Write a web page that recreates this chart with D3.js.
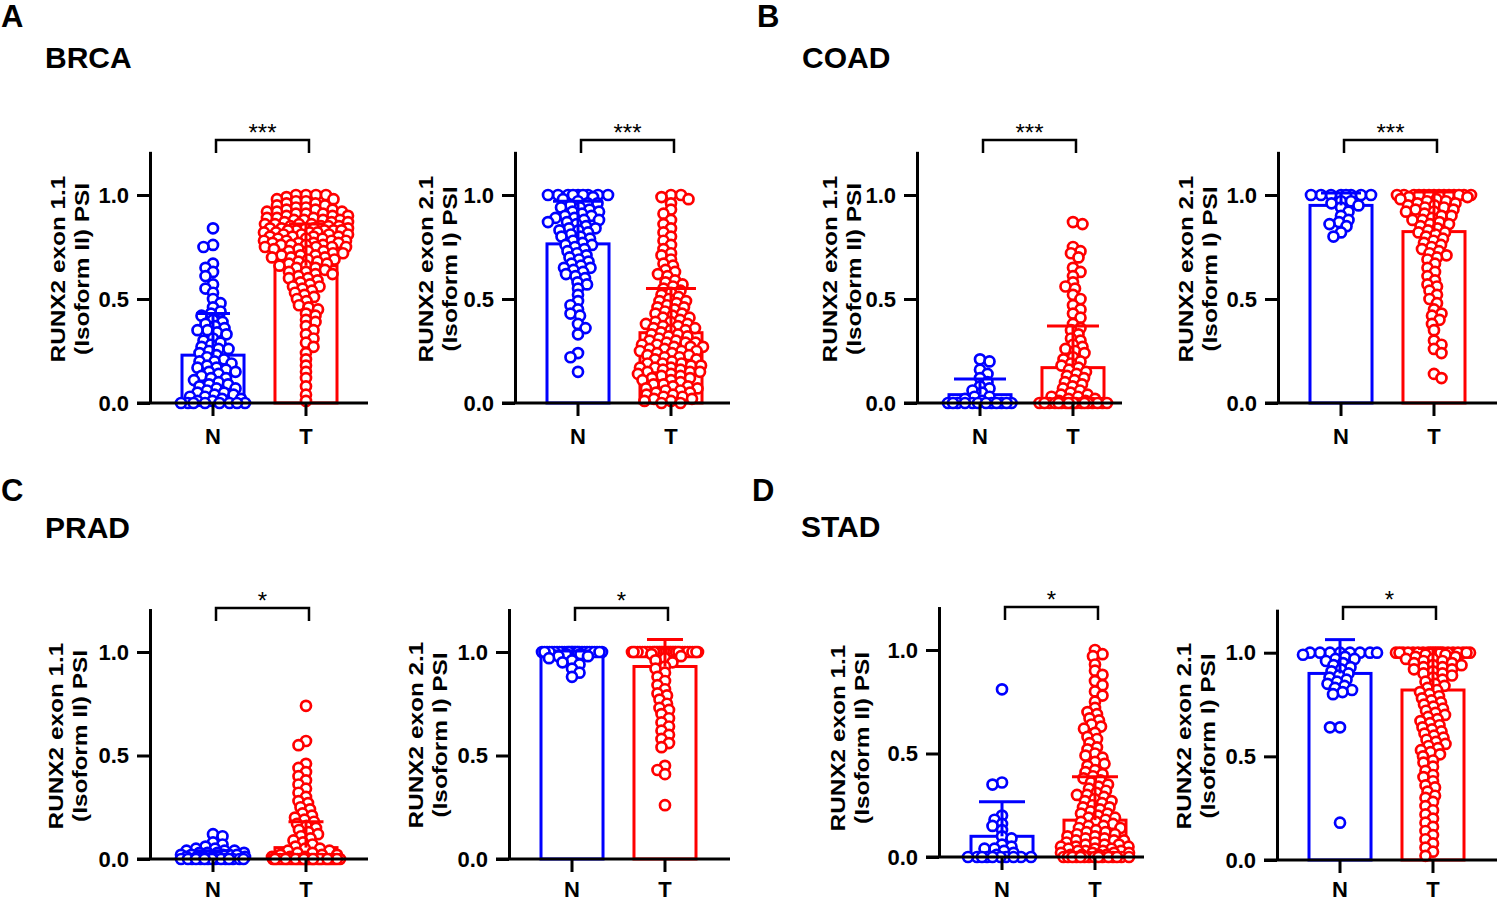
<!DOCTYPE html>
<html>
<head>
<meta charset="utf-8">
<script src="https://cdn.jsdelivr.net/npm/d3@7"></script>
<style>
  body { margin: 0; background: #fff; }
  svg { display: block; }
</style>
</head>
<body>
<svg id="chart" width="1500" height="902"></svg>
<script>
// ---- data ----
const categories = ["N", "T"];
const yTicks = [0, 0.5, 1.0];
const cancers = ["BRCA", "COAD", "PRAD", "STAD"];
const panelLetters = ["A", "B", "C", "D"];
const significance = ["***", "***", "*", "*"];

// bar heights (mean) and upward error (SD), [N, T] per cancer
const mean11 = [[0.23, 0.66], [0.04, 0.17], [0.02, 0.055], [0.10, 0.178]];
const sd11   = [[0.20, 0.20], [0.075, 0.20], [0.02, 0.125], [0.167, 0.21]];
const mean21 = [[0.765, 0.338], [0.95, 0.824], [0.985, 0.93], [0.90, 0.82]];
const sd21   = [[0.205, 0.212], [0.06, 0.19], [0.02, 0.13], [0.163, 0.20]];

// individual samples (PSI)
const brca11N = [0.84, 0.76, 0.75, 0.67, 0.65, 0.63, 0.61, 0.57, 0.55, 0.53, 0.50, 0.48, 0.46, 0.44, 0.43, 0.42, 0.40, 0.39, 0.38, 0.37, 0.36, 0.35, 0.35, 0.34, 0.33, 0.31, 0.30, 0.29, 0.28, 0.27, 0.26, 0.26, 0.25, 0.24, 0.23, 0.22, 0.21, 0.20, 0.20, 0.19, 0.18, 0.17, 0.17, 0.16, 0.15, 0.15, 0.14, 0.13, 0.12, 0.12, 0.11, 0.10, 0.09, 0.09, 0.08, 0.07, 0.07, 0.06, 0.05, 0.05, 0.04, 0.04, 0.03, 0.03, 0.02, 0.02, 0.01, 0.01, 0, 0, 0, 0, 0, 0, 0, 0];
const brca11T = [1, 1, 1, 1,
  0.99, 0.98, 0.98, 0.97, 0.97, 0.96, 0.96, 0.95, 0.95,
  0.94, 0.94, 0.93, 0.93, 0.93, 0.92, 0.92, 0.92, 0.91, 0.91, 0.91, 0.90, 0.90, 0.90,
  0.89, 0.89, 0.89, 0.88, 0.88, 0.88, 0.88, 0.87, 0.87, 0.87, 0.86, 0.86, 0.86, 0.86, 0.85, 0.85, 0.85, 0.85,
  0.84, 0.84, 0.84, 0.84, 0.84, 0.83, 0.83, 0.83, 0.83, 0.83, 0.82, 0.82, 0.82, 0.82, 0.81, 0.81, 0.81, 0.81, 0.80, 0.80, 0.80, 0.80,
  0.79, 0.79, 0.79, 0.78, 0.78, 0.78, 0.78, 0.77, 0.77, 0.77, 0.77, 0.76, 0.76, 0.76, 0.76, 0.75, 0.75, 0.75, 0.75,
  0.74, 0.74, 0.73, 0.73, 0.73, 0.72, 0.72, 0.71, 0.71, 0.71, 0.70, 0.70, 0.70,
  0.69, 0.69, 0.68, 0.68, 0.67, 0.67, 0.66, 0.66, 0.65, 0.65,
  0.64, 0.63, 0.63, 0.62, 0.62, 0.61, 0.60, 0.60,
  0.59, 0.58, 0.57, 0.56, 0.56, 0.55, 0.54, 0.53, 0.52, 0.51, 0.50,
  0.49, 0.47, 0.46, 0.45, 0.43, 0.42, 0.40, 0.39, 0.37, 0.35, 0.33, 0.31,
  0.29, 0.27, 0.24, 0.21, 0.18, 0.15, 0.12, 0.08, 0.04, 0.01];
const brca21N = [1, 1, 1, 1, 1, 1, 1, 1, 1,
  0.99, 0.98, 0.97, 0.96, 0.96, 0.95, 0.94, 0.94, 0.93, 0.92, 0.92, 0.91, 0.90, 0.90,
  0.89, 0.89, 0.88, 0.88, 0.87, 0.87, 0.86, 0.85, 0.84, 0.84, 0.83, 0.83, 0.82, 0.81, 0.80, 0.80,
  0.79, 0.78, 0.77, 0.76, 0.76, 0.75, 0.74, 0.73, 0.72, 0.71, 0.70,
  0.69, 0.68, 0.67, 0.66, 0.65, 0.65, 0.64, 0.63, 0.62, 0.61, 0.60,
  0.58, 0.57, 0.55, 0.52, 0.49, 0.47, 0.45, 0.43, 0.42, 0.38, 0.36, 0.33, 0.24, 0.22, 0.15];
const brca21T = [1, 1, 0.99, 0.98, 0.96, 0.93, 0.91, 0.88, 0.86, 0.84, 0.82, 0.80, 0.78, 0.76, 0.74, 0.72, 0.71,
  0.69, 0.67, 0.66, 0.64, 0.63, 0.62, 0.61, 0.59, 0.58, 0.57, 0.56, 0.55, 0.54, 0.53, 0.52, 0.51, 0.50,
  0.49, 0.49, 0.48, 0.47, 0.46, 0.46, 0.45, 0.44, 0.43, 0.43, 0.42, 0.41, 0.41, 0.40,
  0.39, 0.39, 0.38, 0.38, 0.37, 0.37, 0.36, 0.36, 0.35, 0.35, 0.34, 0.33, 0.33, 0.32, 0.32, 0.31, 0.30, 0.30,
  0.29, 0.29, 0.29, 0.28, 0.28, 0.27, 0.27, 0.27, 0.26, 0.26, 0.25, 0.25, 0.25, 0.24, 0.24, 0.23, 0.23, 0.22, 0.22, 0.21, 0.21, 0.20,
  0.19, 0.19, 0.19, 0.18, 0.18, 0.17, 0.17, 0.17, 0.16, 0.16, 0.15, 0.15, 0.15, 0.14, 0.14, 0.13, 0.13, 0.12, 0.12, 0.11, 0.11, 0.10,
  0.09, 0.09, 0.08, 0.08, 0.07, 0.07, 0.06, 0.06, 0.05, 0.05, 0.04, 0.04, 0.03, 0.03, 0.02, 0.02, 0.01, 0.01, 0, 0];

const coad11N = [0.21, 0.20, 0.16, 0.14, 0.12, 0.10, 0.08, 0.07, 0.06, 0.05, 0.03, 0.03, 0.02, 0.01, 0, 0, 0, 0, 0, 0, 0, 0, 0, 0, 0, 0];
const coad11T = [0.87, 0.86, 0.75, 0.73, 0.72, 0.70, 0.65, 0.63, 0.61, 0.58, 0.56, 0.55, 0.52, 0.50, 0.47, 0.45, 0.43, 0.41, 0.38, 0.36, 0.35, 0.33, 0.31, 0.30, 0.28, 0.27, 0.26, 0.25, 0.24, 0.22, 0.21, 0.20, 0.19, 0.18, 0.17, 0.16, 0.15, 0.14, 0.13, 0.12, 0.11, 0.10, 0.09, 0.08, 0.07, 0.06, 0.05, 0.04, 0.04, 0.03, 0.03, 0.02, 0.02, 0.01, 0.01, 0, 0, 0, 0, 0, 0, 0, 0, 0, 0, 0, 0, 0, 0, 0, 0, 0, 0];
const coad21N = [1, 1, 1, 1, 1, 1, 1, 1, 0.97, 0.97, 0.96, 0.95, 0.94, 0.92, 0.90, 0.88, 0.87, 0.86, 0.85, 0.82, 0.80];
const coad21T = [1, 1, 1, 1, 1, 1, 1, 1, 1, 1, 1, 1, 1, 1,
  0.99, 0.99, 0.98, 0.98, 0.97, 0.97, 0.96, 0.96, 0.95, 0.95, 0.94, 0.94, 0.93, 0.93, 0.92, 0.92, 0.91, 0.90, 0.90,
  0.89, 0.88, 0.88, 0.87, 0.86, 0.86, 0.85, 0.84, 0.83, 0.82, 0.82, 0.81, 0.80, 0.79, 0.78, 0.77, 0.76, 0.75,
  0.74, 0.73, 0.72, 0.71, 0.70, 0.69, 0.67, 0.65, 0.63, 0.61, 0.59, 0.57, 0.56, 0.54, 0.52, 0.50,
  0.48, 0.45, 0.43, 0.42, 0.40, 0.38, 0.35, 0.30, 0.28, 0.26, 0.24, 0.14, 0.12];

const prad11N = [0.12, 0.11, 0.08, 0.07, 0.06, 0.05, 0.05, 0.04, 0.04, 0.04, 0.03, 0.03, 0.03, 0.03, 0.02, 0.02, 0.02, 0.02, 0.02, 0.01, 0.01, 0.01, 0.01, 0.01, 0.01, 0, 0, 0, 0, 0, 0, 0, 0, 0, 0, 0, 0, 0, 0, 0];
const prad11T = [0.74, 0.57, 0.55, 0.46, 0.44, 0.42, 0.40, 0.38, 0.36, 0.34, 0.32, 0.30, 0.28, 0.27, 0.25, 0.24, 0.22, 0.21, 0.20, 0.19, 0.18, 0.17, 0.16, 0.15, 0.14, 0.13, 0.12, 0.11, 0.10, 0.09, 0.08, 0.07, 0.06, 0.05, 0.05, 0.04, 0.04, 0.03, 0.03, 0.02, 0.02, 0.02, 0.01, 0.01, 0.01,
  0, 0, 0, 0, 0, 0, 0, 0, 0, 0, 0, 0, 0, 0, 0, 0, 0, 0, 0, 0, 0, 0, 0, 0, 0, 0, 0, 0, 0, 0];
const prad21N = [1, 1, 1, 1, 1, 1, 1, 1, 1, 1, 1, 1, 1, 1, 1, 1, 1, 1, 1, 1, 1, 1, 1, 1, 1, 1, 1, 1, 1, 1,
  0.99, 0.99, 0.98, 0.98, 0.97, 0.96, 0.95, 0.94, 0.92, 0.90, 0.88];
const prad21T = [1, 1, 1, 1, 1, 1, 1, 1, 1, 1, 1, 1, 1, 1, 1, 1, 1, 1, 1, 1, 1, 1, 1, 1, 1, 1, 1, 1, 1, 1, 1, 1, 1, 1, 1, 1, 1, 1, 1, 1,
  0.99, 0.98, 0.97, 0.96, 0.95, 0.93, 0.92, 0.90, 0.88, 0.86, 0.84, 0.82, 0.80, 0.79, 0.77, 0.75, 0.73, 0.72, 0.70,
  0.68, 0.66, 0.64, 0.62, 0.60, 0.58, 0.56, 0.54, 0.45, 0.43, 0.41, 0.26];

const stad11N = [0.81, 0.36, 0.35, 0.20, 0.18, 0.16, 0.15, 0.13, 0.10, 0.09, 0.06, 0.05, 0.04, 0.04, 0.03, 0.02, 0.01, 0, 0, 0, 0, 0, 0, 0, 0, 0, 0];
const stad11T = [1.00, 0.98, 0.97, 0.93, 0.90, 0.88, 0.85, 0.83, 0.80, 0.78, 0.75, 0.72, 0.70, 0.69, 0.67, 0.66, 0.64, 0.63, 0.62, 0.60,
  0.58, 0.57, 0.55, 0.53, 0.52, 0.50, 0.49, 0.48, 0.46, 0.45, 0.44, 0.42, 0.41, 0.40, 0.39, 0.38, 0.37, 0.36, 0.35, 0.34,
  0.33, 0.32, 0.31, 0.30, 0.30, 0.29, 0.28, 0.27, 0.27, 0.26, 0.25, 0.24, 0.24, 0.23, 0.22, 0.21, 0.21, 0.20, 0.19, 0.19,
  0.18, 0.17, 0.17, 0.16, 0.15, 0.15, 0.14, 0.14, 0.13, 0.12, 0.12, 0.11, 0.11, 0.10, 0.10, 0.09, 0.09, 0.08, 0.08, 0.08,
  0.07, 0.07, 0.06, 0.06, 0.06, 0.05, 0.05, 0.05, 0.04, 0.04, 0.04, 0.03, 0.03, 0.03, 0.03, 0.02, 0.02, 0.02, 0.02,
  0.01, 0.01, 0.01, 0.01, 0, 0, 0, 0, 0, 0, 0, 0, 0, 0, 0, 0, 0, 0, 0];
const stad21N = [1, 1, 1, 1, 1, 1, 1, 1, 0.99, 0.98, 0.97, 0.97, 0.96, 0.95, 0.94, 0.93, 0.92, 0.91, 0.90, 0.89, 0.88, 0.87, 0.86, 0.85, 0.84, 0.83, 0.82, 0.81, 0.80, 0.64, 0.64, 0.18];
const stad21T = [1, 1, 1, 1, 1, 1, 1, 1, 1, 1, 1, 1, 1, 1, 1, 1, 1, 1, 1, 1,
  0.99, 0.99, 0.98, 0.98, 0.97, 0.97, 0.96, 0.96, 0.95, 0.95, 0.94, 0.94, 0.93, 0.93, 0.92, 0.92, 0.91, 0.90, 0.90,
  0.89, 0.88, 0.87, 0.86, 0.85, 0.84, 0.83, 0.82, 0.81, 0.80, 0.79, 0.78, 0.77, 0.76, 0.75, 0.74, 0.73, 0.72, 0.71, 0.70,
  0.69, 0.68, 0.67, 0.66, 0.65, 0.64, 0.63, 0.62, 0.61, 0.60, 0.59, 0.58, 0.57, 0.56, 0.55, 0.54, 0.53, 0.52, 0.51, 0.50,
  0.48, 0.47, 0.45, 0.43, 0.41, 0.40, 0.38, 0.36, 0.35, 0.33, 0.31, 0.30, 0.28, 0.26, 0.24, 0.22, 0.20, 0.18, 0.16, 0.14,
  0.12, 0.10, 0.08, 0.06, 0.04, 0.02];

const samples11 = [[brca11N, brca11T], [coad11N, coad11T], [prad11N, prad11T], [stad11N, stad11T]];
const samples21 = [[brca21N, brca21T], [coad21N, coad21T], [prad21N, prad21T], [stad21N, stad21T]];

// ---- layout ----
const svg = d3.select("#chart");
svg.append("rect").attr("width", 1500).attr("height", 902).attr("fill", "#fff");

const FONT = "Arial, 'Liberation Sans', Helvetica, sans-serif";
const colors = { N: "#0000ff", T: "#ff0000" };
const yMax = 1.21;

// panel geometry: y-axis x, y of 0, px per unit, x-axis right end, label offset,
// cap width, bracket y, swarm half widths [N, T]
const geom = [
  { ax: 150,  y0: 403, unit: 208,   xEnd: 218, lab: -93,  cap: 34, brY: 140, labY: 269, xPad: 12, hw: [32, 42] },
  { ax: 515,  y0: 403, unit: 208,   xEnd: 215, lab: -90,  cap: 50, brY: 140, labY: 269, xPad: 12, hw: [32, 34] },
  { ax: 917,  y0: 403, unit: 208,   xEnd: 205, lab: -88,  cap: 52, brY: 140, labY: 269, xPad: 12, hw: [32, 34] },
  { ax: 1278, y0: 403, unit: 208,   xEnd: 219, lab: -93,  cap: 40, brY: 140, labY: 269, xPad: 12, hw: [32, 37] },
  { ax: 150,  y0: 859, unit: 207,   xEnd: 218, lab: -95,  cap: 35, brY: 608, labY: 736, xPad: 9,  hw: [32, 34] },
  { ax: 509,  y0: 859, unit: 207,   xEnd: 221, lab: -94,  cap: 36, brY: 608, labY: 735, xPad: 9,  hw: [30, 33] },
  { ax: 939,  y0: 857, unit: 207,   xEnd: 205, lab: -102, cap: 46, brY: 607, labY: 738, xPad: 11, hw: [34, 34] },
  { ax: 1277, y0: 860, unit: 207.3, xEnd: 220, lab: -94,  cap: 30, brY: 607, labY: 736, xPad: 8,  hw: [37, 37] }
];

const headers = [
  { lx: 1,   ly: 27,  tx: 45,  ty: 68 },
  { lx: 757, ly: 27,  tx: 802, ty: 68 },
  { lx: 1,   ly: 501, tx: 45,  ty: 538 },
  { lx: 752, ly: 501, tx: 801, ty: 537 }
];

// build panel list: per cancer, exon 1.1 then exon 2.1
const panels = [];
cancers.forEach((c, i) => {
  panels.push({ exon: "1.1", iso: "II", groups: samples11[i], mean: mean11[i], sd: sd11[i], sig: significance[i] });
  panels.push({ exon: "2.1", iso: "I",  groups: samples21[i], mean: mean21[i], sd: sd21[i], sig: significance[i] });
});

// headers
headers.forEach((h, i) => {
  svg.append("text").attr("x", h.lx).attr("y", h.ly)
    .attr("font-family", FONT).attr("font-weight", "bold").attr("font-size", 31)
    .text(panelLetters[i]);
  svg.append("text").attr("x", h.tx).attr("y", h.ty)
    .attr("font-family", FONT).attr("font-weight", "bold").attr("font-size", 30)
    .text(cancers[i]);
});

// simple deterministic beeswarm: nearest x offset where a point does not
// overlap too much with the ones already placed. Vertical distance counts
// more than horizontal so points stack into narrow columns, like Prism.
function swarm(values, y, maxHW) {
  const D = 10, VK = 1.7;
  const pts = values.map(v => ({ v, y: y(v) })).sort((a, b) => b.v - a.v);
  const placed = [];
  pts.forEach((p, idx) => {
    let found = null, best = 0, bestScore = -1;
    const near = placed.filter(q => Math.abs(q.y - p.y) * VK < D);
    for (let k = 0; k <= maxHW && found === null; k += 0.5) {
      const cands = k === 0 ? [0] : (idx % 2 ? [k, -k] : [-k, k]);
      for (const s of cands) {
        let minD = Infinity;
        for (const q of near) {
          const d = Math.hypot(q.x - s, (q.y - p.y) * VK);
          if (d < minD) minD = d;
        }
        if (minD >= D) { found = s; break; }
        if (minD > bestScore + 0.01) { bestScore = minD; best = s; }
      }
    }
    p.x = found !== null ? found : best;
    placed.push(p);
  });
  return placed;
}

panels.forEach((p, i) => {
  const g = geom[i];
  const gp = svg.append("g").attr("transform", `translate(${g.ax},0)`);

  const y = d3.scaleLinear().domain([0, yMax]).range([g.y0, g.y0 - yMax * g.unit]);
  const x = d3.scaleBand().domain(categories).range([32, 187]).paddingInner(0.333);

  // bars
  gp.selectAll("rect.bar")
    .data(categories)
    .join("rect")
    .attr("class", "bar")
    .attr("x", d => x(d))
    .attr("width", x.bandwidth())
    .attr("y", (d, j) => y(p.mean[j]))
    .attr("height", (d, j) => y(0) - y(p.mean[j]))
    .attr("fill", "#fff")
    .attr("stroke", d => colors[d])
    .attr("stroke-width", 3);

  // points
  categories.forEach((cat, j) => {
    const cx = x(cat) + x.bandwidth() / 2;
    const pts = swarm(p.groups[j], y, g.hw[j]);
    gp.append("g").selectAll("circle")
      .data(pts)
      .join("circle")
      .attr("cx", d => cx + d.x)
      .attr("cy", d => d.y)
      .attr("r", 5)
      .attr("fill", "#fff")
      .attr("stroke", colors[cat])
      .attr("stroke-width", 2.7);
  });

  // error bars (upper SD)
  categories.forEach((cat, j) => {
    const cx = x(cat) + x.bandwidth() / 2;
    const top = y(p.mean[j] + p.sd[j]);
    const eb = gp.append("g").attr("stroke", colors[cat]).attr("stroke-width", 3);
    eb.append("line").attr("x1", cx).attr("x2", cx).attr("y1", y(p.mean[j])).attr("y2", top);
    eb.append("line").attr("x1", cx - g.cap / 2).attr("x2", cx + g.cap / 2).attr("y1", top).attr("y2", top);
  });

  // y axis
  const yAxis = gp.append("g")
    .call(d3.axisLeft(y).tickValues(yTicks).tickFormat(d3.format(".1f")).tickSize(13).tickSizeOuter(0).tickPadding(8));
  yAxis.selectAll("path, line").attr("stroke", "#000").attr("stroke-width", 3);
  yAxis.selectAll("text").attr("font-family", FONT).attr("font-weight", "bold").attr("font-size", 22).attr("fill", "#000");

  // x axis
  const xAxis = gp.append("g")
    .attr("transform", `translate(0,${g.y0})`)
    .call(d3.axisBottom(x).tickSize(13).tickSizeOuter(0).tickPadding(g.xPad));
  xAxis.select(".domain").remove();
  xAxis.append("line").attr("x1", -13).attr("x2", g.xEnd).attr("y1", 0).attr("y2", 0);
  xAxis.selectAll("line").attr("stroke", "#000").attr("stroke-width", 3);
  xAxis.selectAll("text").attr("font-family", FONT).attr("font-weight", "bold").attr("font-size", 22).attr("fill", "#000");

  // y label, two lines
  const lab = gp.append("g")
    .attr("transform", `translate(${g.lab},${g.labY}) rotate(-90) scale(1.16,1)`)
    .attr("font-family", FONT).attr("font-weight", "bold").attr("font-size", 21)
    .attr("text-anchor", "middle");
  lab.append("text").attr("y", 7.5).text(`RUNX2 exon ${p.exon}`);
  lab.append("text").attr("y", 32.5).text(`(Isoform ${p.iso}) PSI`);

  // significance bracket
  const xN = x("N") + x.bandwidth() / 2 + 3;
  const xT = x("T") + x.bandwidth() / 2 + 3;
  gp.append("path")
    .attr("d", `M${xN},${g.brY + 13}V${g.brY}H${xT}V${g.brY + 13}`)
    .attr("fill", "none").attr("stroke", "#000").attr("stroke-width", 2.5);
  gp.append("text")
    .attr("x", (xN + xT) / 2).attr("y", g.brY + 1)
    .attr("text-anchor", "middle")
    .attr("font-family", FONT).attr("font-size", 24)
    .text(p.sig);
});
</script>
</body>
</html>
